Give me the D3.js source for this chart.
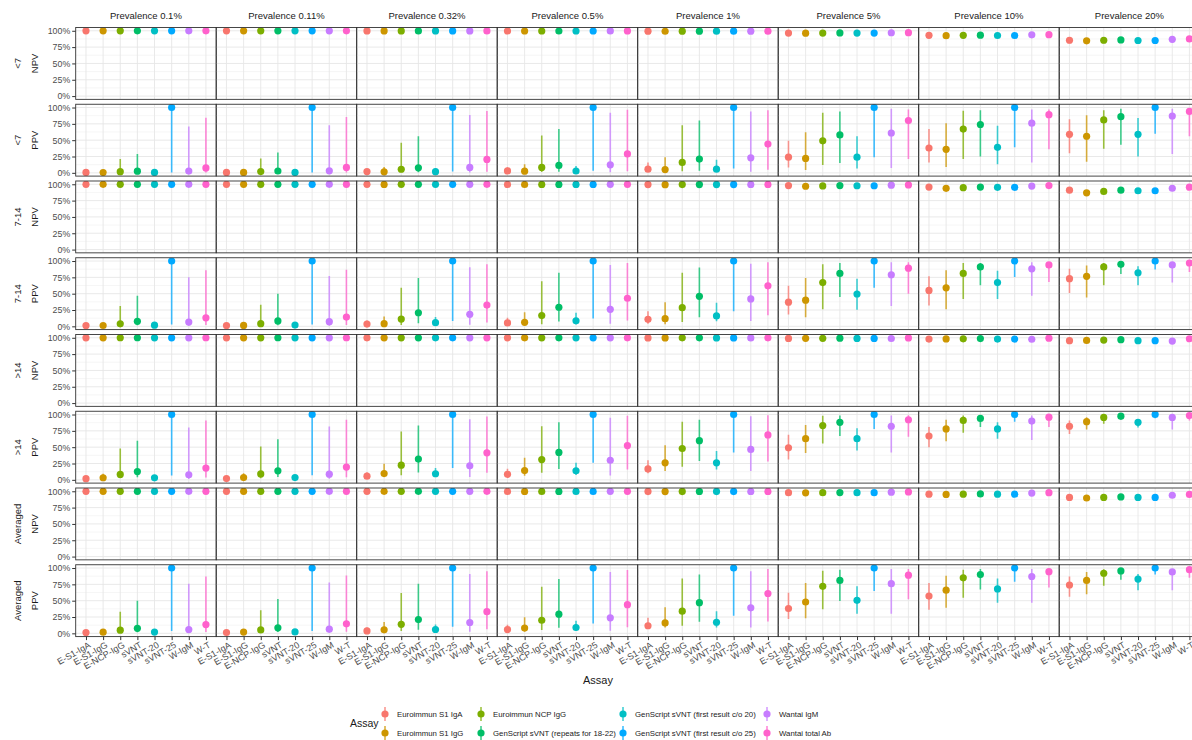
<!DOCTYPE html>
<html><head><meta charset="utf-8">
<script src="https://cdn.jsdelivr.net/npm/d3@7"></script>
<style>
body{margin:0;background:#fff}
svg{display:block}
text{font-family:"Liberation Sans", Arial, Helvetica, sans-serif}
</style>
</head><body>
<svg id="chart" width="1192" height="740"></svg>
<script>
// ---------------- DATA ----------------
const prevalenceLabels = ["Prevalence 0.1%","Prevalence 0.11%","Prevalence 0.32%","Prevalence 0.5%","Prevalence 1%","Prevalence 5%","Prevalence 10%","Prevalence 20%"];
const assayCodes = ["E-S1-IgA","E-S1-IgG","E-NCP-IgG","sVNT","sVNT-20","sVNT-25","W-IgM","W-T"];
const assayNames = ["Euroimmun S1 IgA","Euroimmun S1 IgG","Euroimmun NCP IgG","GenScript sVNT (repeats for 18-22)","GenScript sVNT (first result c/o 20)","GenScript sVNT (first result c/o 25)","Wantai IgM","Wantai total Ab"];
const assayColors = ["#F8766D","#CD9600","#7CAE00","#00BE67","#00BFC4","#00A9FF","#C77CFF","#FF61CC"];
const rowGroups = ["<7","<7","7-14","7-14",">14",">14","Averaged","Averaged"];
const rowMeasures = ["NPV","PPV","NPV","PPV","NPV","PPV","NPV","PPV"];
const yTickValues = [0,25,50,75,100];
const yTickLabels = ["0%","25%","50%","75%","100%"];

// values in %, rows = assays (order of assayCodes), columns = prevalences
const npvLt7Est = [
 [99.93,99.93,99.78,99.66,99.32,96.54,92.98,85.47],
 [99.93,99.92,99.77,99.63,99.27,96.30,92.50,84.57],
 [99.93,99.93,99.78,99.66,99.32,96.54,92.98,85.47],
 [99.94,99.93,99.79,99.67,99.35,96.69,93.27,86.02],
 [99.93,99.92,99.78,99.65,99.30,96.45,92.78,85.11],
 [99.93,99.92,99.78,99.65,99.30,96.45,92.78,85.11],
 [99.94,99.93,99.81,99.70,99.40,96.94,93.75,86.96],
 [99.94,99.94,99.82,99.71,99.43,97.09,94.05,87.53]];
const npvLt7Lo = [
 [99.88,99.88,99.63,99.46,98.92,95.04,90.48,80.97],
 [99.88,99.87,99.62,99.43,98.87,94.80,90.00,80.07],
 [99.88,99.88,99.63,99.46,98.92,95.04,90.48,80.97],
 [99.89,99.88,99.64,99.47,98.95,95.19,90.77,81.52],
 [99.88,99.87,99.63,99.45,98.90,94.95,90.28,80.61],
 [99.88,99.87,99.63,99.45,98.90,94.95,90.28,80.61],
 [99.89,99.88,99.66,99.50,99.00,95.44,91.25,82.46],
 [99.89,99.89,99.67,99.51,99.03,95.59,91.55,83.03]];
const npvLt7Hi = [
 [99.97,99.97,99.90,99.84,99.67,97.74,95.18,89.27],
 [99.97,99.96,99.89,99.81,99.62,97.50,94.70,88.37],
 [99.97,99.97,99.90,99.84,99.67,97.74,95.18,89.27],
 [99.98,99.97,99.91,99.85,99.70,97.89,95.47,89.82],
 [99.97,99.96,99.90,99.83,99.65,97.65,94.98,88.91],
 [99.97,99.96,99.90,99.83,99.65,97.65,94.98,88.91],
 [99.98,99.97,99.93,99.88,99.75,98.14,95.95,90.76],
 [99.98,99.98,99.94,99.89,99.78,98.29,96.25,91.33]];

const ppvLt7Est = [
 [0.6,0.7,1.9,2.9,5.6,24,38,59],
 [0.5,0.6,1.6,2.5,5,22,36,56],
 [1.8,2.0,5.5,8.3,16,49,67,81],
 [2.5,2.8,7.6,11.4,21,58,74,86],
 [0.6,0.6,1.8,2.8,5.6,24,39,59],
 [100,100,100,100,100,100,100,100],
 [2.7,3.0,8.3,12.3,23,61,76,87],
 [7.5,8.3,20.5,29,44,80,89,94]];
const ppvLt7Lo = [
 [0.17,0.19,0.54,0.85,1.7,8,16,30],
 [0.09,0.1,0.28,0.44,0.9,4.5,9,17],
 [0.25,0.28,0.8,1.25,2.5,12,21,37],
 [0.31,0.34,1.0,1.5,3,15,25,43],
 [0.13,0.15,0.43,0.66,1.3,6.5,13,25],
 [0.62,0.68,2.0,3.0,6.5,24,39,60],
 [0.17,0.18,0.53,0.82,1.6,7.5,16,29],
 [0.51,0.56,1.6,2.5,4.7,21,36,56]];
const ppvLt7Hi = [
 [1.8,2.0,5.6,8.5,16,49,67,82],
 [2.9,3.2,8.8,13,24,62,76,88],
 [21,22,46,57,73,92,95,96],
 [29,31,56,67,80,94,96,98],
 [2.3,2.5,7,10.6,20,56,72,84],
 [100,100,100,100,100,100,100,100],
 [71,73,88.5,92,94,98,97,98],
 [84.5,85.6,94.5,96.4,96,97,97,98]];

const npv714Est = [
 [99.96,99.96,99.87,99.80,99.60,97.94,95.75,90.91],
 [99.94,99.93,99.81,99.70,99.40,96.94,93.75,86.96],
 [99.95,99.95,99.84,99.75,99.51,97.49,94.84,89.09],
 [99.96,99.96,99.87,99.80,99.60,97.94,95.75,90.91],
 [99.96,99.95,99.86,99.78,99.56,97.74,95.34,90.09],
 [99.96,99.95,99.86,99.78,99.56,97.74,95.34,90.09],
 [99.97,99.97,99.92,99.87,99.74,98.65,97.19,93.90],
 [99.98,99.98,99.94,99.90,99.81,99.01,97.93,95.47]];
const npv714Lo = [
 [99.93,99.93,99.78,99.68,99.36,97.04,94.25,88.21],
 [99.91,99.90,99.72,99.58,99.16,96.04,92.25,84.26],
 [99.92,99.92,99.75,99.63,99.27,96.59,93.34,86.39],
 [99.93,99.93,99.78,99.68,99.36,97.04,94.25,88.21],
 [99.93,99.92,99.77,99.66,99.32,96.84,93.84,87.39],
 [99.93,99.92,99.77,99.66,99.32,96.84,93.84,87.39],
 [99.94,99.94,99.83,99.75,99.50,97.75,95.69,91.20],
 [99.95,99.95,99.85,99.78,99.57,98.11,96.43,92.77]];
const npv714Hi = [
 [99.98,99.98,99.94,99.90,99.80,98.64,97.05,93.21],
 [99.96,99.95,99.88,99.80,99.60,97.64,95.05,89.26],
 [99.97,99.97,99.91,99.85,99.71,98.19,96.14,91.39],
 [99.98,99.98,99.94,99.90,99.80,98.64,97.05,93.21],
 [99.98,99.97,99.93,99.88,99.76,98.44,96.64,92.39],
 [99.98,99.97,99.93,99.88,99.76,98.44,96.64,92.39],
 [99.99,99.99,99.99,99.97,99.94,99.35,98.49,96.20],
 [100,100,100,100,100,99.71,99.23,97.77]];

const ppv714Est = [
 [1.1,1.2,3.4,5.2,10.7,37,55,73],
 [1.3,1.4,4.0,6.1,11.7,40,59,76.5],
 [3.8,4.1,11.1,16.4,28.6,67,81,91],
 [7.6,8.3,20.8,29.2,46,81,91,95],
 [1.8,2.0,5.6,8.5,16,49.5,67,82],
 [100,100,100,100,100,100,100,100],
 [6.5,7.2,18.4,26,42,79,88,94],
 [13,14.2,32.5,43,62,89,94,97]];
const ppv714Lo = [
 [0.42,0.46,1.3,2.1,4,18,32,51],
 [0.31,0.34,0.99,1.5,3,14,26,44],
 [0.68,0.74,2.1,3.3,6.6,26,42,63],
 [1.5,1.7,4.8,7.3,14,45,63,80],
 [0.68,0.74,2.1,3.3,7.6,25.5,42,63],
 [2.7,2.9,8.1,12.1,23,59,75.5,87],
 [0.83,0.91,2.6,4.0,8,31,47,67],
 [1.9,2.1,5.8,8.8,17,50,68,83]];
const ppv714Hi = [
 [2.9,3.2,8.8,13.1,23,62,76.5,88],
 [5.2,5.7,15,21.7,37,74,86,93],
 [31,33,59,69,82,95,97,97],
 [47,50,74,82,90,97,97,98],
 [4.9,5.4,14.3,20.7,36,73,85,92],
 [100,100,100,100,100,100,100,100],
 [75,77,90.6,93.8,96,98,98,98],
 [85.7,86.8,95,96.8,98,98,98,98]];

const npvGt14Est = [
 [99.98,99.98,99.94,99.90,99.81,99.01,97.93,95.47],
 [99.98,99.98,99.95,99.91,99.83,99.11,98.15,95.92],
 [99.99,99.98,99.95,99.92,99.85,99.22,98.36,96.39],
 [99.99,99.99,99.96,99.94,99.88,99.37,98.69,97.09],
 [99.98,99.98,99.94,99.90,99.81,99.01,97.93,95.47],
 [99.98,99.98,99.94,99.90,99.81,99.01,97.93,95.47],
 [99.98,99.98,99.93,99.89,99.79,98.91,97.72,95.01],
 [99.99,99.99,99.98,99.97,99.94,99.68,99.34,98.52]];
const npvGt14Lo = [
 [99.96,99.96,99.89,99.83,99.67,98.51,97.03,93.87],
 [99.96,99.96,99.90,99.84,99.69,98.61,97.25,94.32],
 [99.97,99.96,99.90,99.85,99.71,98.72,97.46,94.79],
 [99.97,99.97,99.91,99.87,99.74,98.87,97.79,95.49],
 [99.96,99.96,99.89,99.83,99.67,98.51,97.03,93.87],
 [99.96,99.96,99.89,99.83,99.67,98.51,97.03,93.87],
 [99.96,99.96,99.88,99.82,99.65,98.41,96.82,93.41],
 [99.97,99.97,99.93,99.90,99.80,99.18,98.44,96.92]];
const npvGt14Hi = [
 [99.99,99.99,99.98,99.95,99.91,99.41,98.63,96.77],
 [99.99,99.99,99.99,99.96,99.93,99.51,98.85,97.22],
 [100,99.99,99.99,99.97,99.95,99.62,99.06,97.69],
 [100,100,100,99.99,99.98,99.77,99.39,98.39],
 [99.99,99.99,99.98,99.95,99.91,99.41,98.63,96.77],
 [99.99,99.99,99.98,99.95,99.91,99.41,98.63,96.77],
 [99.99,99.99,99.97,99.94,99.89,99.31,98.42,96.31],
 [100,100,100,100,100,100,100,99.82]];

const ppvGt14Est = [
 [1.8,2.0,5.6,8.5,16.7,49,67,82],
 [3.2,3.5,9.6,14.2,26,63,78,89],
 [8.3,9.0,22.4,31,48,83,91,95.5],
 [12.7,13.8,31.8,42,60,88,94,97.5],
 [3.1,3.4,9.3,13.9,26,63,78,88],
 [100,100,100,100,100,100,100,100],
 [7.8,8.6,21.4,30,46.5,82,90,95.5],
 [18,19.5,41.4,52.5,68.7,92,96,98.5]];
const ppvGt14Lo = [
 [0.9,1.0,2.9,4.4,10,31,50,70],
 [1.3,1.5,4.2,6.4,13.6,41,59,77],
 [2.3,2.6,7.2,10.8,20,55.6,72,86],
 [3.8,4.2,11.4,16.7,29,67,81,92],
 [1.6,1.7,4.9,7.4,16,45,63,80],
 [6.5,7.2,18.3,26,42,78,89,94.4],
 [1.4,1.5,4.3,6.6,13.6,42,61,77],
 [3.7,4.0,10.9,16,28,66,81,91]];
const ppvGt14Hi = [
 [3.9,4.3,11.6,17.1,30,69,81,91],
 [9.3,10.2,24.8,34,53,84,92,96],
 [48,51,74,82,89,98,98.5,99],
 [60,62,83,88,92,98.5,99,99],
 [6.5,7.2,18.3,26,44,79,88,93],
 [100,100,100,100,100,100,100,100],
 [80,81.5,92.8,95.2,97.5,98.5,98.5,99],
 [91,92,97,98,99,99,99,99]];

const npvAvgEst = [
 [99.96,99.95,99.87,99.79,99.58,97.84,95.54,90.50],
 [99.95,99.95,99.85,99.77,99.54,97.64,95.14,89.69],
 [99.96,99.95,99.87,99.79,99.58,97.84,95.54,90.50],
 [99.96,99.96,99.88,99.81,99.62,98.04,95.95,91.32],
 [99.96,99.95,99.87,99.79,99.58,97.84,95.54,90.50],
 [99.96,99.95,99.87,99.79,99.58,97.84,95.54,90.50],
 [99.97,99.97,99.92,99.87,99.74,98.65,97.19,93.90],
 [99.98,99.98,99.94,99.90,99.80,98.96,97.83,95.24]];
const npvAvgLo = [
 [99.94,99.93,99.81,99.71,99.42,97.24,94.54,88.70],
 [99.93,99.93,99.79,99.69,99.38,97.04,94.14,87.89],
 [99.94,99.93,99.81,99.71,99.42,97.24,94.54,88.70],
 [99.94,99.94,99.82,99.73,99.46,97.44,94.95,89.52],
 [99.94,99.93,99.81,99.71,99.42,97.24,94.54,88.70],
 [99.94,99.93,99.81,99.71,99.42,97.24,94.54,88.70],
 [99.95,99.95,99.86,99.79,99.58,98.05,96.19,92.10],
 [99.96,99.96,99.88,99.82,99.64,98.36,96.83,93.44]];
const npvAvgHi = [
 [99.98,99.97,99.92,99.86,99.71,98.34,96.39,92.00],
 [99.97,99.97,99.90,99.84,99.67,98.14,95.99,91.19],
 [99.98,99.97,99.92,99.86,99.71,98.34,96.39,92.00],
 [99.98,99.98,99.93,99.88,99.75,98.54,96.80,92.82],
 [99.98,99.97,99.92,99.86,99.71,98.34,96.39,92.00],
 [99.98,99.97,99.92,99.86,99.71,98.34,96.39,92.00],
 [99.99,99.99,99.97,99.94,99.87,99.15,98.04,95.40],
 [100,100,99.99,99.97,99.93,99.46,98.68,96.74]];

const ppvAvgEst = [
 [1.2,1.3,3.7,5.7,11.6,38,57,74],
 [1.7,1.9,5.3,8.1,16,48,66,81],
 [4.8,5.2,13.8,20,34,72,85,92],
 [7.7,8.4,21,29.4,47,81,90,95.5],
 [1.9,2.1,5.9,8.9,17,50.5,68,83],
 [100,100,100,100,100,100,100,100],
 [5.8,6.4,16.6,23.8,39,76,87,94],
 [13.4,14.6,33.2,43.8,61,89,94.4,97.5]];
const ppvAvgLo = [
 [0.53,0.58,1.7,2.6,6.6,22,36,56],
 [0.6,0.66,1.9,2.9,9,23,39,60],
 [1.1,1.2,3.4,5.2,11.6,37,54.5,73],
 [1.8,2.0,5.6,8.5,17.7,49.5,67,82],
 [0.8,0.9,2.5,3.9,9,30,47,66],
 [3.4,3.7,10.1,15,27,65,79,90],
 [0.8,0.9,2.5,3.9,9,30,47,66],
 [2.1,2.3,6.3,9.5,18,52,70,85]];
const ppvAvgHi = [
 [2.9,3.2,8.8,13.1,24,62,77,87],
 [6.1,6.7,17.3,24.6,40,77,88,94],
 [33,35.5,61.6,71.5,84,96,97.5,98],
 [50,52.4,76,83,90,97.5,98.5,98.5],
 [4.6,5.0,13.4,19.4,34,72,84,91],
 [100,100,100,100,100,100,100,100],
 [76,78,91,94,95,98.5,98.5,98.5],
 [87,88.5,95,96.8,98.5,98.5,98.5,98.5]];

// ---------------- LAYOUT ----------------
const rows = [
 {est:npvLt7Est, lo:npvLt7Lo, hi:npvLt7Hi},
 {est:ppvLt7Est, lo:ppvLt7Lo, hi:ppvLt7Hi},
 {est:npv714Est, lo:npv714Lo, hi:npv714Hi},
 {est:ppv714Est, lo:ppv714Lo, hi:ppv714Hi},
 {est:npvGt14Est, lo:npvGt14Lo, hi:npvGt14Hi},
 {est:ppvGt14Est, lo:ppvGt14Lo, hi:ppvGt14Hi},
 {est:npvAvgEst, lo:npvAvgLo, hi:npvAvgHi},
 {est:ppvAvgEst, lo:ppvAvgLo, hi:ppvAvgHi}
];

const svg = d3.select("#chart");
svg.append("rect").attr("width",1192).attr("height",740).attr("fill","#fff");

const panelLeft = 75.7, panelPitch = 140.5, panelW = 140.5;
const panelTop = 27.5, rowPitch = 76.75, panelH = 71.85;
const textDark = "#1a1a1a", textGrey = "#4d4d4d";

const defs = svg.append("defs");

// strip labels (top)
prevalenceLabels.forEach((lab, c) => {
  svg.append("text")
    .attr("x", panelLeft + c*panelPitch + panelW/2)
    .attr("y", 15)
    .attr("text-anchor","middle")
    .attr("dominant-baseline","central")
    .attr("font-size", 9.5)
    .attr("fill", textDark)
    .text(lab);
});

rows.forEach((row, r) => {
  const y0 = panelTop + r*rowPitch;
  const y = d3.scaleLinear().domain([-5,105]).range([y0+panelH, y0]);

  // left row labels (two lines, rotated)
  const cy = y0 + panelH/2;
  [[rowGroups[r],17.5],[rowMeasures[r],34.5]].forEach(([t,xx]) => {
    svg.append("text")
      .attr("transform",`translate(${xx},${cy}) rotate(-90)`)
      .attr("text-anchor","middle")
      .attr("dominant-baseline","central")
      .attr("font-size", 9.5)
      .attr("fill", textDark)
      .text(t);
  });

  // y axis
  const yAxis = svg.append("g")
    .attr("transform",`translate(${panelLeft},0)`)
    .call(d3.axisLeft(y).tickValues(yTickValues).tickFormat((d,i)=>yTickLabels[i]).tickSize(3.5).tickPadding(2));
  yAxis.select(".domain").remove();
  yAxis.selectAll("line").attr("stroke","#333333");
  yAxis.selectAll("text").attr("font-size",8.8).attr("fill",textGrey).attr("font-family",null);

  prevalenceLabels.forEach((lab, c) => {
    const x0 = panelLeft + c*panelPitch;
    const x = d3.scalePoint().domain(assayCodes).range([x0, x0+panelW]).padding(0.6);
    const clipId = `clip-${r}-${c}`;
    defs.append("clipPath").attr("id",clipId).append("rect")
      .attr("x",x0).attr("y",y0).attr("width",panelW).attr("height",panelH);
    const g = svg.append("g");
    const gc = g.append("g").attr("clip-path",`url(#${clipId})`);

    // minor horizontal grid
    [12.5,37.5,62.5,87.5].forEach(v => {
      gc.append("line").attr("x1",x0).attr("x2",x0+panelW)
        .attr("y1",y(v)).attr("y2",y(v))
        .attr("stroke","#f0f0f0").attr("stroke-width",0.6);
    });
    // major horizontal grid
    yTickValues.forEach(v => {
      gc.append("line").attr("x1",x0).attr("x2",x0+panelW)
        .attr("y1",y(v)).attr("y2",y(v))
        .attr("stroke","#e6e6e6").attr("stroke-width",0.9);
    });
    // vertical grid
    assayCodes.forEach(a => {
      gc.append("line").attr("x1",x(a)).attr("x2",x(a))
        .attr("y1",y0).attr("y2",y0+panelH)
        .attr("stroke","#e6e6e6").attr("stroke-width",0.9);
    });

    // point ranges
    assayCodes.forEach((a,i) => {
      gc.append("line")
        .attr("x1",x(a)).attr("x2",x(a))
        .attr("y1",y(row.lo[i][c])).attr("y2",y(row.hi[i][c]))
        .attr("stroke",assayColors[i]).attr("stroke-width",1.6).attr("stroke-opacity",0.75);
    });
    assayCodes.forEach((a,i) => {
      gc.append("circle")
        .attr("cx",x(a)).attr("cy",y(row.est[i][c])).attr("r",3.6)
        .attr("fill",assayColors[i]);
    });

    // panel border
    g.append("rect").attr("x",x0).attr("y",y0).attr("width",panelW).attr("height",panelH)
      .attr("fill","none").attr("stroke","#333333").attr("stroke-width",0.9);

    // x axis on bottom row
    if (r === rows.length-1) {
      const xa = svg.append("g").attr("transform",`translate(0,${y0+panelH})`)
        .call(d3.axisBottom(x).tickSize(3.5).tickPadding(0));
      xa.select(".domain").remove();
      xa.selectAll("line").attr("stroke","#333333");
      xa.selectAll("text")
        .attr("font-size",9).attr("fill",textGrey).attr("font-family",null)
        .attr("text-anchor","end")
        .attr("x",0).attr("y",0).attr("dy","0.72em")
        .attr("transform","translate(1.5,4.5) rotate(-30)");
    }
  });
});

// x axis title
svg.append("text").attr("x",598).attr("y",680)
  .attr("text-anchor","middle").attr("dominant-baseline","central")
  .attr("font-size",11).attr("fill",textDark).text("Assay");

// legend
svg.append("text").attr("x",350).attr("y",723)
  .attr("dominant-baseline","central")
  .attr("font-size",10.5).attr("fill",textDark).text("Assay");
const legKeyX = [385,481,623,767];
const legRowY = [714,733];
assayNames.forEach((name,i) => {
  const col = Math.floor(i/2), rr = i%2;
  const kx = legKeyX[col], ky = legRowY[rr];
  svg.append("line").attr("x1",kx).attr("x2",kx).attr("y1",ky-7).attr("y2",ky+7)
    .attr("stroke",assayColors[i]).attr("stroke-width",1.6).attr("stroke-opacity",0.75);
  svg.append("circle").attr("cx",kx).attr("cy",ky).attr("r",3.6).attr("fill",assayColors[i]);
  svg.append("text").attr("x",kx+12).attr("y",ky)
    .attr("dominant-baseline","central")
    .attr("font-size",7.8).attr("fill",textDark).text(name);
});
</script>
</body></html>
